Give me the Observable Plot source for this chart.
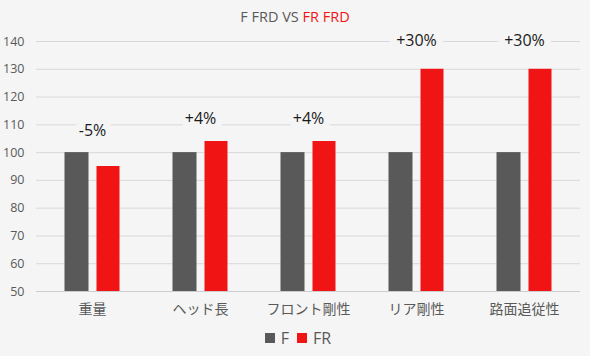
<!DOCTYPE html>
<html>
<head>
<meta charset="utf-8">
<script src="https://cdn.jsdelivr.net/npm/d3@7"></script>
<script src="https://cdn.jsdelivr.net/npm/@observablehq/plot@0.6"></script>
<style>
  html, body { margin: 0; padding: 0; background: #f5f5f5; }
  body { width: 590px; height: 356px; position: relative; overflow: hidden;
         font-family: "Open Sans", "Noto Sans CJK JP", sans-serif; }
  #title { position: absolute; top: 6px; left: 0; width: 590px; text-align: center;
           font-size: 14.5px; color: #595959; line-height: 22px; }
  #title .red { color: #f01414; }
  #chart { position: absolute; top: 28px; left: 0; }
  #legend { position: absolute; top: 327px; left: 0; width: 590px; display: flex;
            justify-content: center; align-items: center; gap: 0; font-size: 16px;
            color: #595959; line-height: 22px; padding-left: 6px; box-sizing: border-box; }
  .sw { width: 10px; height: 10px; display: inline-block; margin-right: 6px; }
  .item { display: flex; align-items: center; margin: 0 4px; }
</style>
</head>
<body>
<div id="title">F FRD VS <span class="red">FR FRD</span></div>
<div id="chart"></div>
<div id="legend"></div>
<script>
const categories = ["重量", "ヘッド長", "フロント剛性", "リア剛性", "路面追従性"];
const fValues = [100, 100, 100, 100, 100];
const frValues = [95, 104, 104, 130, 130];
const diffLabels = ["-5%", "+4%", "+4%", "+30%", "+30%"];
const yTicks = [50, 60, 70, 80, 90, 100, 110, 120, 130, 140];
const seriesNames = ["F", "FR"];
const seriesColors = ["#595959", "#f01414"];

const data = categories.map((c, i) => ({cat: c, f: fValues[i], fr: frValues[i], label: diffLabels[i]}));
const bg = "#f5f5f5";

const chart = Plot.plot({
  width: 590,
  height: 293,
  marginLeft: 36,
  marginRight: 10,
  marginTop: 13,
  marginBottom: 30,
  style: {background: "transparent", fontFamily: "'Open Sans', 'Noto Sans CJK JP', sans-serif", color: "#595959"},
  x: {domain: categories, padding: 0, axis: null},
  y: {domain: [50, 140], axis: null},
  marks: [
    Plot.ruleY(yTicks.filter(t => t > 50), {stroke: "#d9d9d9", strokeWidth: 1}),
    Plot.ruleY([50], {stroke: "#cccccc", strokeWidth: 1}),
    Plot.barY(data, {x: "cat", y1: 50, y2: "f", fill: seriesColors[0], insetLeft: 26.5, insetRight: 57.5}),
    Plot.barY(data, {x: "cat", y1: 50, y2: "fr", fill: seriesColors[1], insetLeft: 58.5, insetRight: 26.5}),
    Plot.text(data, {x: "cat", y: d => Math.max(d.f, d.fr) * 1.08, text: "label",
      fill: "#1a1a1a", stroke: bg, strokeWidth: 14, strokeLinejoin: "round", fontSize: 16}),
    Plot.axisX({tickSize: 0, tickPadding: 13, fontSize: 14, fill: "#595959", label: null}),
    Plot.axisY({ticks: yTicks, tickSize: 0, tickPadding: 12, fontSize: 12.5, fill: "#595959", label: null, tickFormat: d => String(d)})
  ]
});
document.getElementById("chart").appendChild(chart);

const legend = document.getElementById("legend");
seriesNames.forEach((n, i) => {
  const it = document.createElement("span");
  it.className = "item";
  const sw = document.createElement("span");
  sw.className = "sw";
  sw.style.background = seriesColors[i];
  it.appendChild(sw);
  it.appendChild(document.createTextNode(n));
  legend.appendChild(it);
});
</script>
</body>
</html>
